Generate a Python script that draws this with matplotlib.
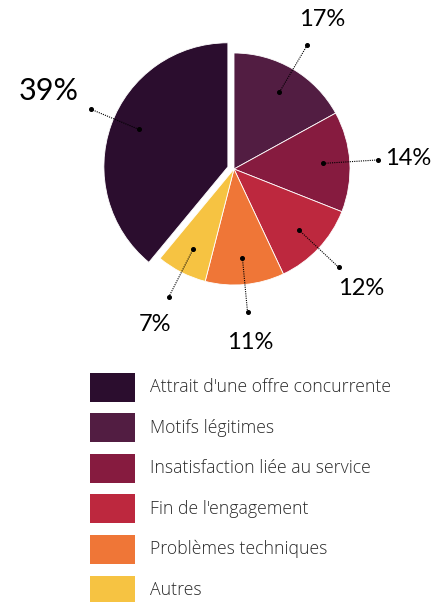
import matplotlib.pyplot as plt
import numpy as np
from matplotlib.patches import Rectangle

# share of churn reasons (%)
categories = ["Attrait d'une offre concurrente", "Motifs légitimes",
              "Insatisfaction liée au service", "Fin de l'engagement",
              "Problèmes techniques", "Autres"]
values = [39, 17, 14, 12, 11, 7]
colors = ["#2b0d2e", "#521d42", "#861b3f", "#bd283e", "#ef7637", "#f6c342"]

W, H = 441, 602
fig = plt.figure(figsize=(W / 100, H / 100), dpi=100)
ax = fig.add_axes([0, 0, 1, 1])

# work in pixel-like units, y pointing up
cx, cy = 234, H - 169
R = 116
big_r = 124
shift = 6.5

start = 90 + 360 * values[0] / sum(values)
explode = [shift] + [0] * (len(values) - 1)  # pie() takes data units here
wedges, _ = ax.pie(values, colors=colors, startangle=start, counterclock=False,
                   center=(cx, cy), radius=R, explode=explode,
                   wedgeprops=dict(linewidth=0.6, edgecolor="white"))
wedges[0].set_radius(big_r)

for i, (w, v) in enumerate(zip(wedges, values)):
    ang = np.deg2rad((w.theta1 + w.theta2) / 2)
    if i == 0:
        ang -= np.deg2rad(3)
    d = np.array([np.cos(ang), np.sin(ang)])
    wc = np.array(w.center)
    r = w.r
    if i == 0:
        p_in, p_out, tp = wc + 0.78 * r * d, wc + 1.2 * r * d, wc + 1.57 * r * d
        size = 22
    else:
        p_in, p_out, tp = wc + 0.77 * r * d, wc + 1.24 * r * d, wc + 1.5 * r * d
        size = 17
    ax.plot([p_in[0], p_out[0]], [p_in[1], p_out[1]], color="black",
            lw=0.8, ls=(0, (1, 1)), marker="o", ms=2.6, zorder=5)
    ax.text(tp[0], tp[1], f"{v}%", ha="center", va="center",
            fontsize=size, family="Lato", color="black")

# legend
top = H - 387
step = 40.6
for i, (lab, col) in enumerate(zip(categories, colors)):
    y = top - i * step
    ax.add_patch(Rectangle((90, y - 14.5), 45, 29, facecolor=col,
                           edgecolor="none"))
    ax.text(150, y, lab, ha="left", va="center", fontsize=12.7,
            family="Open Sans", fontweight="light", color="#2a2a2a")

ax.set_xlim(0, W)
ax.set_ylim(0, H)
ax.set_aspect("auto")
ax.set_axis_off()

fig.savefig("out.png", dpi=100, facecolor="white")
